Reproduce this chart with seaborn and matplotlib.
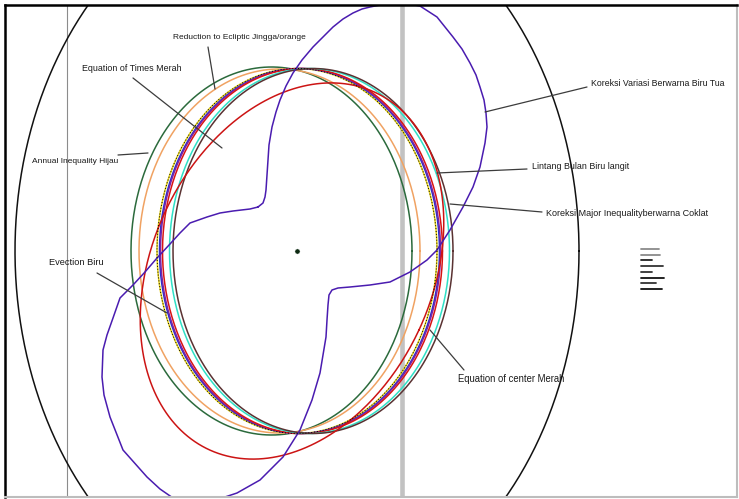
import numpy as np
import pandas as pd
import seaborn as sns
import matplotlib.pyplot as plt

# semua koordinat dalam piksel gambar (y ke bawah)

# elips orbit bulan
orbit_names = ["annual", "reduction", "base", "evection", "base2",
               "center", "lintang", "major"]
orbit_cx = [271.5, 279.5, 297.0, 299.5, 300.5, 302.5, 309.5, 313.0]
orbit_cy = [251, 251, 251, 251, 251, 251, 251, 251]
orbit_rx = [140.5, 140.5, 140.0, 140.0, 140.0, 140.0, 140.0, 140.0]
orbit_ry = [184.0, 182.0, 182.5, 182.5, 182.5, 182.5, 182.5, 182.5]
orbit_colors = ["#2b6a3c", "#f0a262", "#e8d21a", "#2233cc", "#7a22a8",
                "#d81414", "#2fe0c6", "#5a3232"]

# elips miring equation of times
eot_center = (292, 271)
eot_axes = (197, 140)
eot_tilt = -25

# elips besar hitam
outer_center = (297, 251)
outer_axes = (282, 366)

# kurva koreksi variasi
variasi_x = [258, 263, 265, 266, 267, 268, 269, 272, 276, 280, 286, 293, 302, 313,
             323, 333, 343, 353, 362, 370, 385, 403, 420, 437, 453, 462, 470, 476,
             480, 484, 486, 487, 485, 480, 473, 463, 450, 437, 427, 410, 390, 370,
             350, 338, 332, 329, 328, 327, 326, 323, 320, 312, 300, 283, 260, 237,
             222, 208, 192, 173, 160, 147, 123, 110, 104, 102, 103, 107, 113, 120,
             133, 145, 157, 170, 180, 190, 207, 220, 233, 250, 258]
variasi_y = [207, 203, 197, 190, 175, 160, 145, 127, 112, 100, 86, 73, 60, 47,
             37, 27, 19, 13, 9, 7, 4, 3, 6, 17, 37, 49, 63, 75,
             87, 100, 113, 127, 143, 167, 187, 207, 230, 250, 260, 272, 282, 285,
             287, 288, 290, 295, 305, 320, 337, 355, 373, 400, 430, 457, 480, 493,
             498, 503, 503, 498, 489, 477, 450, 417, 395, 377, 350, 335, 318, 298,
             285, 272, 258, 244, 233, 223, 217, 213, 211, 209, 207]

center_x = [297]
center_y = [251]

# garis-garis kecil di kanan
bar_y = [249, 254.7, 260.3, 266, 272, 277.7, 283.3, 289.3]
bar_len = [18, 19, 11, 22, 11, 23, 15, 21]
bar_colors = ["#8a8a8a", "#8a8a8a", "#222222", "#333333", "#333333", "#111111",
              "#333333", "#111111"]

# label dan garis penunjuk
labels = ["Reduction to Ecliptic Jingga/orange", "Equation of Times Merah",
          "Annual Inequality Hijau", "Koreksi Variasi Berwarna Biru Tua",
          "Lintang Bulan Biru langit", "Koreksi Major Inequalityberwarna Coklat",
          "Evection Biru", "Equation of center Merah"]
label_x = [173, 82, 32, 591, 532, 546, 49, 458]
label_y = [38, 69, 162, 84, 167, 214, 263, 379]
label_size = [6.0, 6.4, 6.0, 6.3, 6.4, 6.45, 6.7, 6.85]
leader_x0 = [208, 133, 118, 587, 527, 542, 97, 464]
leader_y0 = [47, 78, 155, 87, 169, 212, 273, 370]
leader_x1 = [215, 222, 148, 485, 437, 450, 167, 430]
leader_y1 = [89, 148, 153, 112, 173, 204, 313, 330]


def ellipse(cx, cy, rx, ry, tilt=0.0):
    t = np.linspace(0, 2 * np.pi, 400)
    a = np.deg2rad(tilt)
    u = rx * np.cos(t)
    v = ry * np.sin(t)
    x = cx + u * np.cos(a) + v * np.sin(a)
    y = cy - u * np.sin(a) + v * np.cos(a)
    return x, y


sns.set_style("white")
plt.rcParams["font.family"] = ["Liberation Sans", "DejaVu Sans"]

fig = plt.figure(figsize=(7.39, 4.99), dpi=100)
ax = fig.add_axes([5 / 739, 2 / 499, 732 / 739, 492 / 499])

# garis vertikal
ax.axvline(66.5, color="#8c8c8c", lw=0.8, zorder=1)
ax.axvline(401.5, color="#c2c2c2", lw=3.3, zorder=1)

frames = []
for i in range(len(orbit_names)):
    x, y = ellipse(orbit_cx[i], orbit_cy[i], orbit_rx[i], orbit_ry[i])
    frames.append(pd.DataFrame({"x": x, "y": y, "curve": orbit_names[i]}))
x, y = ellipse(eot_center[0], eot_center[1], eot_axes[1], eot_axes[0], eot_tilt)
frames.append(pd.DataFrame({"x": x, "y": y, "curve": "eot"}))
x, y = ellipse(outer_center[0], outer_center[1], outer_axes[0], outer_axes[1])
frames.append(pd.DataFrame({"x": x, "y": y, "curve": "outer"}))
frames.append(pd.DataFrame({"x": variasi_x, "y": variasi_y, "curve": "variasi"}))
df = pd.concat(frames, ignore_index=True)

palette = dict(zip(orbit_names, orbit_colors))
palette["eot"] = "#cc1414"
palette["outer"] = "#111111"
palette["variasi"] = "#4a1cb0"

sns.lineplot(data=df, x="x", y="y", hue="curve", palette=palette, sort=False,
             estimator=None, legend=False, linewidth=1.1, ax=ax, zorder=2)

# titik-titik hitam di atas garis kuning
base = df[df["curve"] == "base"]
ax.plot(base["x"], base["y"], color="black", lw=0.7, ls=(0, (1, 2)), zorder=3)

sns.scatterplot(x=center_x, y=center_y, color="#0d2a12", s=14, ax=ax, zorder=4)

for i in range(len(bar_y)):
    ax.plot([641, 641 + bar_len[i]], [bar_y[i], bar_y[i]], color=bar_colors[i], lw=1.3)

for i in range(len(labels)):
    ax.plot([leader_x0[i], leader_x1[i]], [leader_y0[i], leader_y1[i]],
            color="#3c3c3c", lw=0.9, zorder=5)
    ax.text(label_x[i], label_y[i], labels[i], fontsize=label_size[i],
            color="#1a1a1a", ha="left", va="center", zorder=6)

ax.set_xlim(5, 737)
ax.set_ylim(497, 5)
ax.set_xticks([])
ax.set_yticks([])
ax.set_xlabel("")
ax.set_ylabel("")
for side in ["left", "top"]:
    ax.spines[side].set_color("black")
    ax.spines[side].set_linewidth(1.8)
for side in ["right", "bottom"]:
    ax.spines[side].set_color("#bdbdbd")
    ax.spines[side].set_linewidth(1.5)

fig.savefig("out.png", dpi=100)
